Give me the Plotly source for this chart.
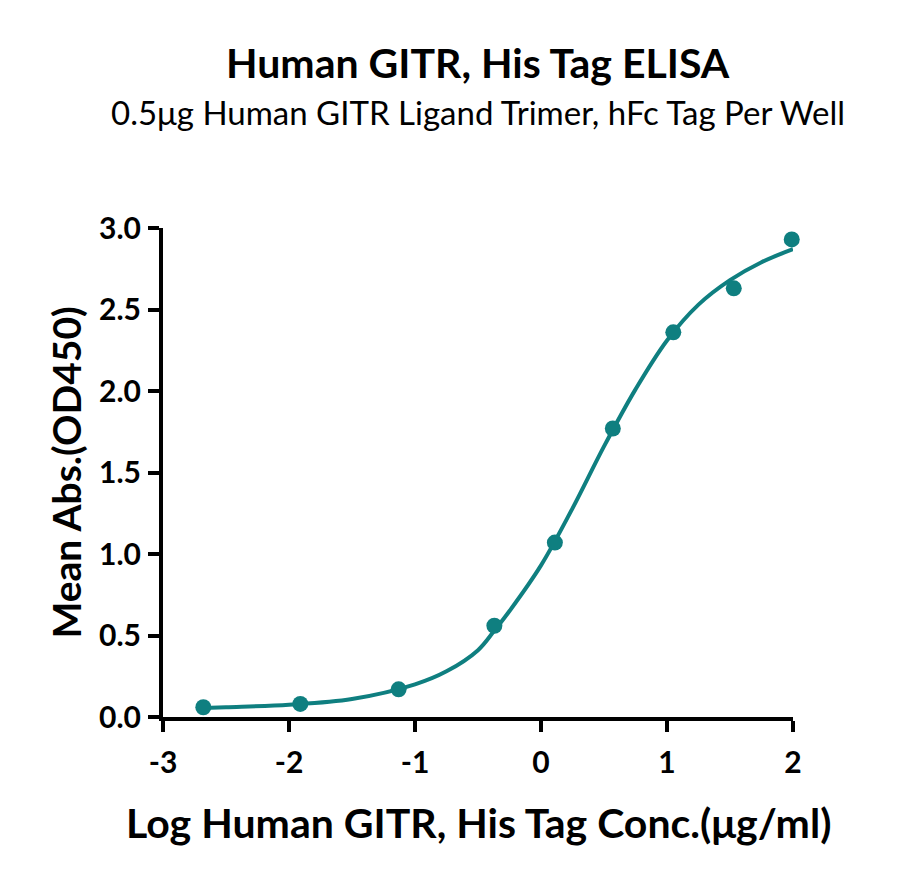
import plotly.graph_objects as go

# measured points (log conc, mean OD450)
log_conc = [-2.68, -1.91, -1.13, -0.37, 0.11, 0.57, 1.05, 1.53, 1.99]
mean_abs = [0.06, 0.08, 0.17, 0.56, 1.07, 1.77, 2.36, 2.63, 2.93]

# fitted curve
fit_x = [-2.68, -2.5, -2.0, -1.5, -1.0, -0.75, -0.5, -0.37, -0.25, 0.0, 0.25, 0.5, 0.75, 1.0, 1.25, 1.5, 1.75, 2.0]
fit_y = [0.055, 0.06, 0.075, 0.11, 0.20, 0.28, 0.41, 0.53, 0.65, 0.93, 1.28, 1.66, 2.01, 2.31, 2.53, 2.68, 2.79, 2.87]

x_ticks = [-3, -2, -1, 0, 1, 2]
x_tick_text = ["-3", "-2", "-1", "0", "1", "2"]
y_ticks = [0.0, 0.5, 1.0, 1.5, 2.0, 2.5, 3.0]

teal = "#0f7f80"
font = "Lato"

fig = go.Figure()
fig.add_trace(go.Scatter(x=fit_x, y=fit_y, mode="lines",
                         line=dict(color=teal, width=4, shape="spline", smoothing=1.0),
                         hoverinfo="skip", cliponaxis=False))
fig.add_trace(go.Scatter(x=log_conc, y=mean_abs, mode="markers", marker=dict(color=teal, size=16),
                         cliponaxis=False))

axis_common = dict(showline=True, linecolor="black", linewidth=4, ticks="outside", ticklen=11,
                   tickwidth=4, tickcolor="black", showgrid=False, zeroline=False,
                   tickfont=dict(family=font, size=30, color="black", weight="bold"))

fig.update_xaxes(range=[-3, 2], tickvals=x_ticks, ticktext=x_tick_text, ticklabelstandoff=5, **axis_common)
fig.update_yaxes(range=[0, 3], tickvals=y_ticks, tickformat=".1f", ticklabelstandoff=1, **axis_common)

# page body has an 8px margin, so margins are shifted to keep the plot where the reference has it
ml, mr, mt, mb = 155, 115, 220, 171
fig.update_layout(
    width=900, height=880, showlegend=False,
    plot_bgcolor="white", paper_bgcolor="white",
    margin=dict(l=ml, r=mr, t=mt, b=mb),
    font=dict(family=font, color="black"),
    annotations=[
        dict(text="<b>Human GITR, His Tag ELISA</b>", x=0.5, y=1, xref="paper", yref="paper",
             yshift=mt - 54, yanchor="middle", showarrow=False, font=dict(size=41)),
        dict(text="0.5μg Human GITR Ligand Trimer, hFc Tag Per Well", x=0.5, y=1, xref="paper",
             yref="paper", yshift=mt - 104, yanchor="middle", showarrow=False, font=dict(size=33)),
        dict(text="<b>Mean Abs.(OD450)</b>", x=0, y=0.5, xref="paper", yref="paper", xshift=-98,
             xanchor="center", yanchor="middle", textangle=-90, showarrow=False, font=dict(size=39)),
        dict(text="<b>Log Human GITR, His Tag Conc.(μg/ml)</b>", x=0.5, y=0, xref="paper", yref="paper",
             yshift=-105, yanchor="middle", showarrow=False, font=dict(size=41)),
    ],
)

fig.write_html("out.html")
